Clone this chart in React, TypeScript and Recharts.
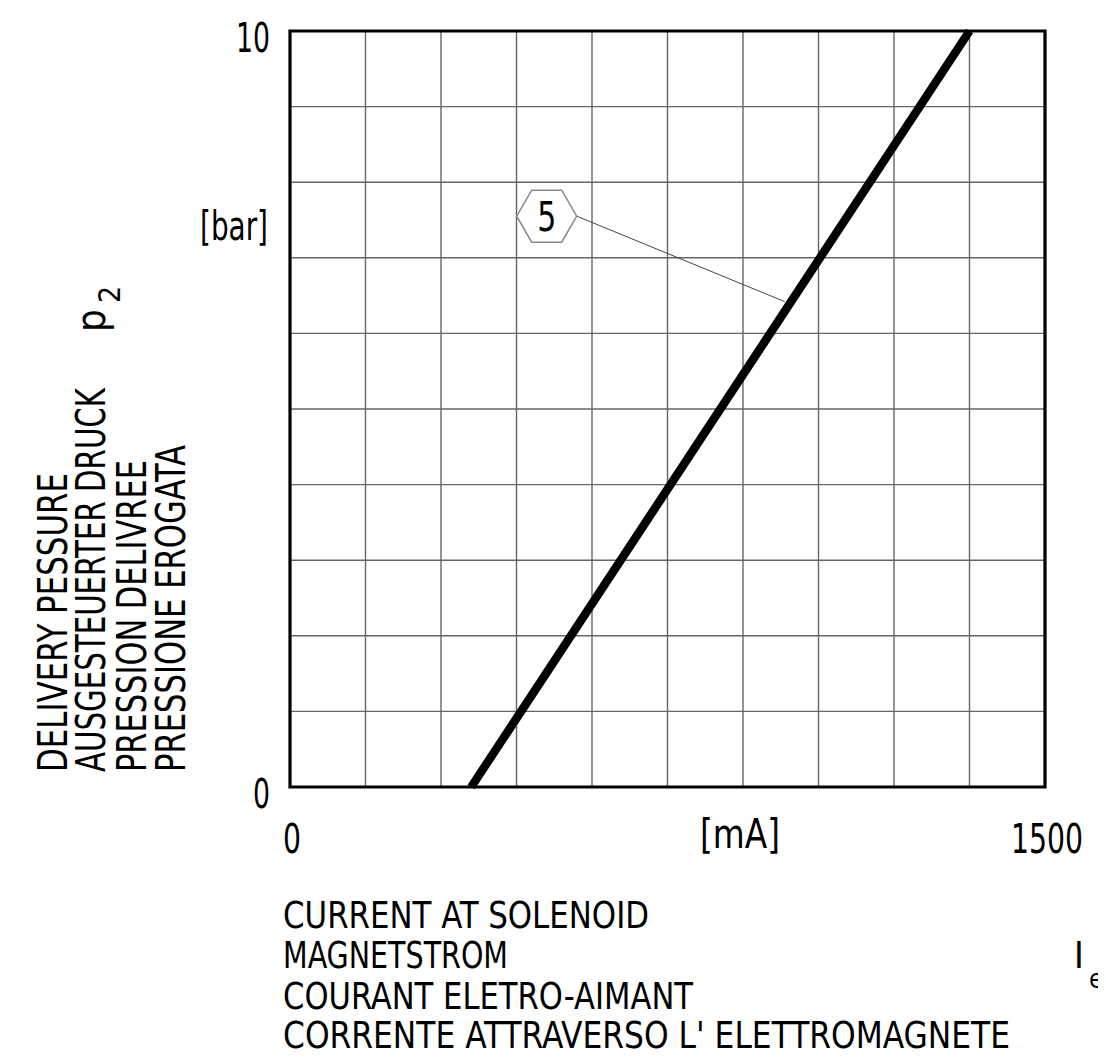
import React from "react";
import {
  LineChart,
  Line,
  XAxis,
  YAxis,
  CartesianGrid,
  ReferenceArea,
  ReferenceDot,
  ReferenceLine,
} from "recharts";

// characteristic curve: delivery pressure vs solenoid current
const CURRENT_MA = [360, 1350];
const PRESSURE_BAR = [0, 10];

const X_GRID = [0, 150, 300, 450, 600, 750, 900, 1050, 1200, 1350, 1500];
const Y_GRID = [0, 1, 2, 3, 4, 5, 6, 7, 8, 9, 10];
const X_LABELS = [0, 1500];
const Y_LABELS = [0, 10];

const CALLOUT = "5";
const CALLOUT_AT = { ma: 510, bar: 7.55 };
const LEADER = [
  { x: 570, y: 7.55 },
  { x: 983, y: 6.42 },
];

const Y_TITLE = [
  "DELIVERY PESSURE",
  "AUSGESTEUERTER DRUCK",
  "PRESSION DELIVREE",
  "PRESSIONE EROGATA",
];
const X_TITLE = [
  "CURRENT AT SOLENOID",
  "MAGNETSTROM",
  "COURANT ELETRO-AIMANT",
  "CORRENTE ATTRAVERSO L' ELETTROMAGNETE",
];

const data = CURRENT_MA.map((ma, i) => ({ ma, p: PRESSURE_BAR[i] }));

const FONT = "'Liberation Sans Narrow', 'DejaVu Sans Condensed', 'Liberation Sans', sans-serif";
const W = 1098;
const H = 1045;

function XTick(props: any) {
  const { x, y, payload } = props;
  if (!X_LABELS.includes(payload.value)) return <g />;
  const s = String(payload.value);
  return (
    <text
      x={x + 2}
      y={y + 66}
      textAnchor="middle"
      fontSize={40}
      fontFamily={FONT}
      fill="#000"
      textLength={s.length * 18}
      lengthAdjust="spacingAndGlyphs"
    >
      {s}
    </text>
  );
}

function YTick(props: any) {
  const { x, y, payload } = props;
  if (!Y_LABELS.includes(payload.value)) return <g />;
  const s = String(payload.value);
  return (
    <text
      x={x - 20}
      y={y + 21}
      textAnchor="end"
      fontSize={40}
      fontFamily={FONT}
      fill="#000"
      textLength={s.length * 17}
      lengthAdjust="spacingAndGlyphs"
    >
      {s}
    </text>
  );
}

function Hexagon(props: any) {
  const { cx, cy } = props;
  const r = 30;
  const pts = [0, 60, 120, 180, 240, 300]
    .map((a) => {
      const t = (a * Math.PI) / 180;
      return `${cx + r * Math.cos(t)},${cy + r * Math.sin(t)}`;
    })
    .join(" ");
  return (
    <g>
      <polygon points={pts} fill="#fff" stroke="#888" strokeWidth={1.5} />
      <text
        x={cx}
        y={cy + 15}
        textAnchor="middle"
        fontSize={40}
        fontFamily={FONT}
        fill="#000"
        textLength={19}
        lengthAdjust="spacingAndGlyphs"
      >
        {CALLOUT}
      </text>
    </g>
  );
}

const leftLens = [299, 384, 312, 327];
const bottomLens = [366, 225, 410, 727];

export default function App() {
  return (
    <div style={{ position: "relative", width: W, height: H, background: "#fff" }}>
      <LineChart
        width={W}
        height={H}
        data={data}
        margin={{ top: 23, right: 61, bottom: 236, left: 222 }}
      >
        <CartesianGrid stroke="#666" strokeWidth={1.4} />
        <XAxis
          type="number"
          dataKey="ma"
          domain={[0, 1500]}
          ticks={X_GRID}
          height={30}
          axisLine={false}
          tickLine={false}
          tickSize={0}
          tickMargin={0}
          interval={0}
          tick={XTick}
        />
        <YAxis
          type="number"
          domain={[0, 10]}
          ticks={Y_GRID}
          width={60}
          axisLine={false}
          tickLine={false}
          tickSize={0}
          tickMargin={0}
          interval={0}
          tick={YTick}
        />
        <ReferenceArea
          x1={0}
          x2={1500}
          y1={0}
          y2={10}
          fill="none"
          fillOpacity={0}
          stroke="#000"
          strokeWidth={3.2}
        />
        <Line
          type="linear"
          dataKey="p"
          stroke="#000"
          strokeWidth={8.5}
          dot={false}
          isAnimationActive={false}
        />
        <ReferenceLine segment={LEADER} stroke="#444" strokeWidth={1} />
        <ReferenceDot x={CALLOUT_AT.ma} y={CALLOUT_AT.bar} r={30} shape={Hexagon} />
      </LineChart>

      <svg
        width={W}
        height={H}
        style={{ position: "absolute", left: 0, top: 0, pointerEvents: "none", overflow: "visible" }}
        fontFamily={FONT}
      >
        <text x={192} y={232} fontSize={40} textLength={68} lengthAdjust="spacingAndGlyphs">
          [bar]
        </text>
        <text x={692} y={840} fontSize={40} textLength={80} lengthAdjust="spacingAndGlyphs">
          [mA]
        </text>

        {Y_TITLE.map((t, i) => (
          <text
            key={t}
            transform={`translate(${[59, 97, 138, 177][i]},764) rotate(-90)`}
            fontSize={40}
            textLength={leftLens[i]}
            lengthAdjust="spacingAndGlyphs"
          >
            {t}
          </text>
        ))}
        <g transform="translate(97,324) rotate(-90)">
          <text x={0} y={0} fontSize={40}>p</text>
          <text x={29} y={15} fontSize={30}>2</text>
        </g>

        {X_TITLE.map((t, i) => (
          <text
            key={t}
            x={275}
            y={[920, 960, 1001, 1040][i]}
            fontSize={37}
            textLength={bottomLens[i]}
            lengthAdjust="spacingAndGlyphs"
          >
            {t}
          </text>
        ))}
        <text x={1066} y={960} fontSize={37}>I</text>
        <text x={1081} y={980} fontSize={26}>e</text>
      </svg>
    </div>
  );
}
